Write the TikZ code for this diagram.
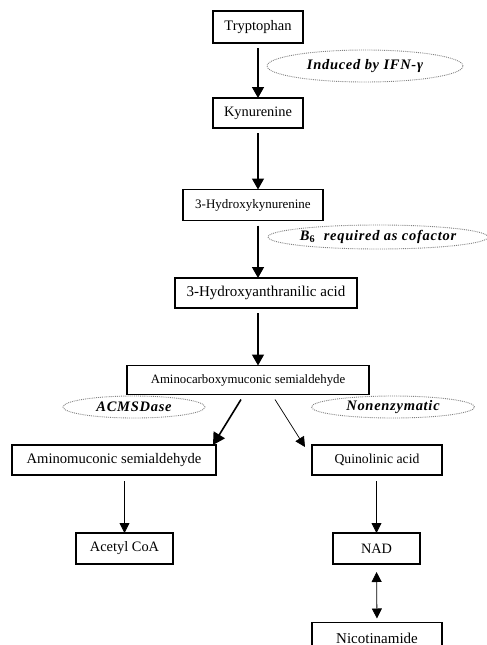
\documentclass[tikz,border=0pt]{standalone}
\usepackage{fontspec}
\setmainfont{Liberation Serif}
\newfontfamily\lblfont[LetterSpace=5]{Liberation Serif}
\usetikzlibrary{arrows.meta,shapes.geometric,calc}
\tikzset{
  box/.style={draw, line width=1.1pt, rectangle, inner sep=0pt, outer sep=0pt, align=center},
  lbl/.style={draw=black!50, densely dotted, line width=0.9pt, ellipse, inner sep=0pt, outer sep=0pt,
     font=\lblfont\bfseries\itshape\fontsize{14.5}{16}\selectfont},
  arr/.style={line width=1.5pt, -{Triangle[width=12pt,length=11pt]}, shorten <=5pt},
  thinarr/.style={line width=0.8pt, -{Triangle[width=10pt,length=10pt]}, shorten <=6pt},
  dblarr/.style={line width=0.8pt, {Triangle[width=10pt,length=10pt]}-{Triangle[width=10pt,length=10pt]}, shorten <=8pt},
  fs/.style={font=\fontsize{#1}{#1}\selectfont}
}
\begin{document}
\begin{tikzpicture}[x=1pt,y=-1pt]
\useasboundingbox (0,0) rectangle (487,645);
\clip (0,0) rectangle (487,645);
\coordinate (spine) at (258,0);
% boxes
\node[box, fs=14.5, minimum width=90, minimum height=32] (tryp) at (258,27) {Tryptophan};
\node[box, fs=14.4, minimum width=90, minimum height=30] (kyn) at (258,113) {Kynurenine};
\node[box, fs=13, minimum width=140, minimum height=31] (hk) at (253,205) {3-Hydroxykynurenine};
\node[box, fs=15, minimum width=182, minimum height=30] (haa) at (266,293) {3-Hydroxyanthranilic acid};
\node[box, fs=12.8, minimum width=242, minimum height=29] (acms) at (248,380) {Aminocarboxymuconic semialdehyde};
\node[box, fs=14.6, minimum width=204, minimum height=30] (ams) at (114,460) {Aminomuconic semialdehyde};
\node[box, fs=13.7, minimum width=130, minimum height=30] (qa) at (377,460) {Quinolinic acid};
\node[box, fs=14.4, minimum width=97, minimum height=31] (acoa) at (124.5,548.5) {Acetyl CoA};
\node[box, fs=14.3, minimum width=87, minimum height=31] (nad) at (376.5,548.5) {NAD};
\node[box, fs=15, minimum width=130, minimum height=31] (nic) at (377,638) {Nicotinamide};
% labels
\node[lbl, minimum width=196, minimum height=32] (e1) at (365,66) {\makebox[0pt]{Induced by IFN-γ}};
\node[lbl, minimum width=220, minimum height=24] (e2) at (378,237) {\makebox[0pt]{B$_{\mathbf{6}}$\ \ required as cofactor}};
\node[lbl, minimum width=142, minimum height=22] (e3) at (134,407) {\makebox[0pt]{ACMSDase}};
\node[lbl, minimum width=163, minimum height=22] (e4) at (393,407) {\makebox[0pt]{Nonenzymatic}};
% arrows
\draw[arr] (tryp.south -| spine) -- (kyn.north -| spine);
\draw[arr] (kyn.south -| spine) -- (hk.north -| spine);
\draw[arr] (hk.south -| spine) -- (haa.north -| spine);
\draw[arr] (haa.south -| spine) -- (acms.north -| spine);
\draw[line width=1.6pt, -{Triangle[width=13pt,length=12pt]}] ($(acms.south)+(-7,5)$) -- ($(ams.north east)+(-3,0)$);
\draw[line width=0.7pt, -{Triangle[width=10pt,length=10pt]}] ($(acms.south)+(27,5)$) -- ($(qa.north west)+(-7,2)$);
\draw[thinarr] (ams.south -| acoa.north) -- (acoa.north);
\draw[thinarr] (qa.south -| nad.north) -- (nad.north);
\draw[dblarr, shorten >=4pt] (nad.south) -- (nic.north);
\end{tikzpicture}
\end{document}
